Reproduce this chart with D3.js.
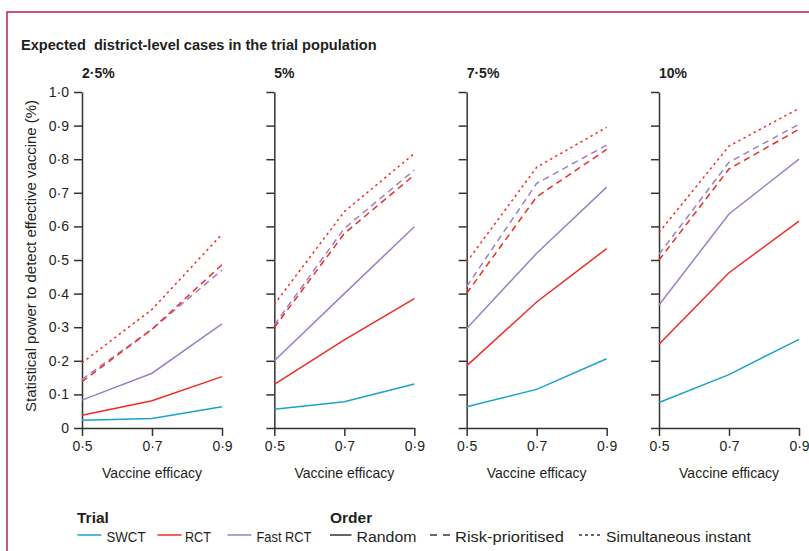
<!DOCTYPE html>
<html>
<head>
<meta charset="utf-8">
<script src="https://cdn.jsdelivr.net/npm/d3@7"></script>
<style>
  html, body { margin: 0; padding: 0; background: #fff; }
  svg { display: block; font-family: "Liberation Sans", Arial, sans-serif; }
</style>
</head>
<body>
<svg id="chart" width="809" height="551"></svg>
<script>
// Cases in the trial population, one panel per prevalence level
const prevalences = ["2·5%", "5%", "7·5%", "10%"];
const efficacy = [0.5, 0.7, 0.9];
const efficacyTicks = [0.5, 0.7, 0.9];
const powerTicks = [0, 0.1, 0.2, 0.3, 0.4, 0.5, 0.6, 0.7, 0.8, 0.9, 1.0];

// Statistical power per panel (rows) at efficacy 0.5 / 0.7 / 0.9
const swctRandom      = [[0.023, 0.028, 0.063], [0.056, 0.078, 0.131], [0.063, 0.115, 0.206], [0.076, 0.159, 0.264]];
const rctRandom       = [[0.038, 0.081, 0.153], [0.130, 0.262, 0.385], [0.185, 0.375, 0.534], [0.249, 0.462, 0.616]];
const fastRandom      = [[0.083, 0.163, 0.310], [0.200, 0.400, 0.599], [0.296, 0.520, 0.717], [0.366, 0.637, 0.800]];
const fastRisk        = [[0.145, 0.294, 0.470], [0.307, 0.594, 0.768], [0.421, 0.728, 0.842], [0.517, 0.791, 0.904]];
const rctRisk         = [[0.138, 0.294, 0.486], [0.299, 0.579, 0.753], [0.401, 0.688, 0.829], [0.500, 0.771, 0.889]];
const rctSimultaneous = [[0.194, 0.353, 0.577], [0.368, 0.644, 0.817], [0.494, 0.776, 0.895], [0.582, 0.839, 0.951]];

const trialNames = ["SWCT", "RCT", "Fast RCT"];
const orderNames = ["Random", "Risk-prioritised", "Simultaneous instant"];

const colors = { SWCT: "#1aa3c9", RCT: "#ee2c25", "Fast RCT": "#9c80c4" };
const dashes = { "Random": null, "Risk-prioritised": "6.5,4.5", "Simultaneous instant": "2.4,3.4" };

// Drawing order: later series sit on top
const seriesList = [
  { trial: "SWCT", order: "Random", values: swctRandom },
  { trial: "RCT", order: "Random", values: rctRandom },
  { trial: "Fast RCT", order: "Random", values: fastRandom },
  { trial: "Fast RCT", order: "Risk-prioritised", values: fastRisk },
  { trial: "RCT", order: "Risk-prioritised", values: rctRisk },
  { trial: "RCT", order: "Simultaneous instant", values: rctSimultaneous }
];

const fmt = d => d === 0 ? "0" : d3.format(".1f")(d).replace(".", "·");

const svg = d3.select("#chart");
const axisColor = "#333";
const textColor = "#231f20";

// Squeeze a text horizontally so it spans the given width
function fitWidth(sel, x, yBase, width) {
  const len = sel.node().getComputedTextLength();
  const k = width / len;
  sel.attr("x", 0).attr("y", 0)
    .attr("transform", `translate(${x},${yBase}) scale(${k},1)`);
}

// Frame rule on the top and left edges
svg.append("path")
  .attr("d", "M7,551 V12 H809")
  .attr("fill", "none")
  .attr("stroke", "#c8164a")
  .attr("stroke-width", 1.5);

const title = svg.append("text")
  .attr("font-size", 15).attr("font-weight", "bold")
  .attr("fill", textColor)
  .attr("xml:space", "preserve")
  .text("Expected  district-level cases in the trial population");
fitWidth(title, 21, 50, 356);

const panelLeft = d3.scaleLinear().domain([0, prevalences.length - 1]).range([82, 659]);
const panelWidth = 140;
const y = d3.scaleLinear().domain([0, 1]).range([428, 92]);

prevalences.forEach((prev, i) => {
  const x0 = panelLeft(i);
  const x = d3.scaleLinear().domain([0.5, 0.9]).range([x0, x0 + panelWidth]);
  const g = svg.append("g");

  g.append("text")
    .attr("x", x0).attr("y", 78)
    .attr("font-size", 14).attr("font-weight", "bold")
    .attr("fill", textColor)
    .text(prev);

  // y axis
  const yAxis = g.append("g")
    .attr("transform", `translate(${x0},0)`)
    .call(d3.axisLeft(y).tickValues(powerTicks).tickFormat(i === 0 ? fmt : () => "")
      .tickSize(8).tickSizeOuter(0).tickPadding(5));
  // x axis
  const xAxis = g.append("g")
    .attr("transform", `translate(0,${y(0)})`)
    .call(d3.axisBottom(x).tickValues(efficacyTicks).tickFormat(fmt)
      .tickSize(8).tickSizeOuter(0).tickPadding(5));

  [yAxis, xAxis].forEach(ax => {
    ax.select(".domain").attr("stroke", axisColor).attr("stroke-width", 1.5);
    ax.selectAll(".tick line").attr("stroke", axisColor).attr("stroke-width", 1.5);
    ax.selectAll(".tick text")
      .attr("fill", textColor)
      .attr("font-size", 14)
      .attr("font-family", "'Liberation Sans', Arial, sans-serif");
  });

  g.append("text")
    .attr("x", x0 + panelWidth / 2).attr("y", 478)
    .attr("text-anchor", "middle")
    .attr("font-size", 14)
    .attr("fill", textColor)
    .text("Vaccine efficacy");

  const line = d3.line()
    .x((d, k) => x(efficacy[k]))
    .y(d => y(d));

  seriesList.forEach(s => {
    g.append("path")
      .attr("d", line(s.values[i]))
      .attr("fill", "none")
      .attr("stroke", colors[s.trial])
      .attr("stroke-width", 1.5)
      .attr("stroke-dasharray", dashes[s.order]);
  });
});

// y-axis title, sized to run from 0 up to the top of the scale
const yTitle = svg.append("text")
  .attr("text-anchor", "middle")
  .attr("font-size", 14)
  .attr("fill", textColor)
  .text("Statistical power to detect effective vaccine (%)");
const yTitleLen = yTitle.node().getComputedTextLength();
yTitle.attr("font-size", 14 * 312 / yTitleLen)
  .attr("transform", `translate(36,256) rotate(-90)`);

// Legend
const legend = svg.append("g").attr("fill", textColor);
legend.append("text").attr("x", 77).attr("y", 523)
  .attr("font-size", 15.5).attr("font-weight", "bold").text("Trial");
legend.append("text").attr("x", 330).attr("y", 523)
  .attr("font-size", 15.5).attr("font-weight", "bold").text("Order");

const legendItems = [
  { label: trialNames[0], stroke: colors.SWCT, dash: null, x1: 77.5, x2: 101.5, tx: 106.5, tw: 39 },
  { label: trialNames[1], stroke: colors.RCT, dash: null, x1: 157.5, x2: 181.5, tx: 185, tw: 26 },
  { label: trialNames[2], stroke: colors["Fast RCT"], dash: null, x1: 227.5, x2: 251.5, tx: 256.5, tw: 55 },
  { label: orderNames[0], stroke: axisColor, dash: null, x1: 330, x2: 351.5, tx: 356.5, tw: 60 },
  { label: orderNames[1], stroke: axisColor, dash: "7,6", x1: 430, x2: 450, tx: 455, tw: 109 },
  { label: orderNames[2], stroke: axisColor, dash: "3,3", x1: 579, x2: 600, tx: 606, tw: 145 }
];

legendItems.forEach(it => {
  legend.append("line")
    .attr("x1", it.x1).attr("x2", it.x2)
    .attr("y1", 535).attr("y2", 535)
    .attr("stroke", it.stroke)
    .attr("stroke-width", 1.5)
    .attr("stroke-dasharray", it.dash);
  const t = legend.append("text")
    .attr("font-size", 15.5)
    .attr("xml:space", "preserve")
    .text(it.label);
  fitWidth(t, it.tx, 541.5, it.tw);
});
</script>
</body>
</html>
